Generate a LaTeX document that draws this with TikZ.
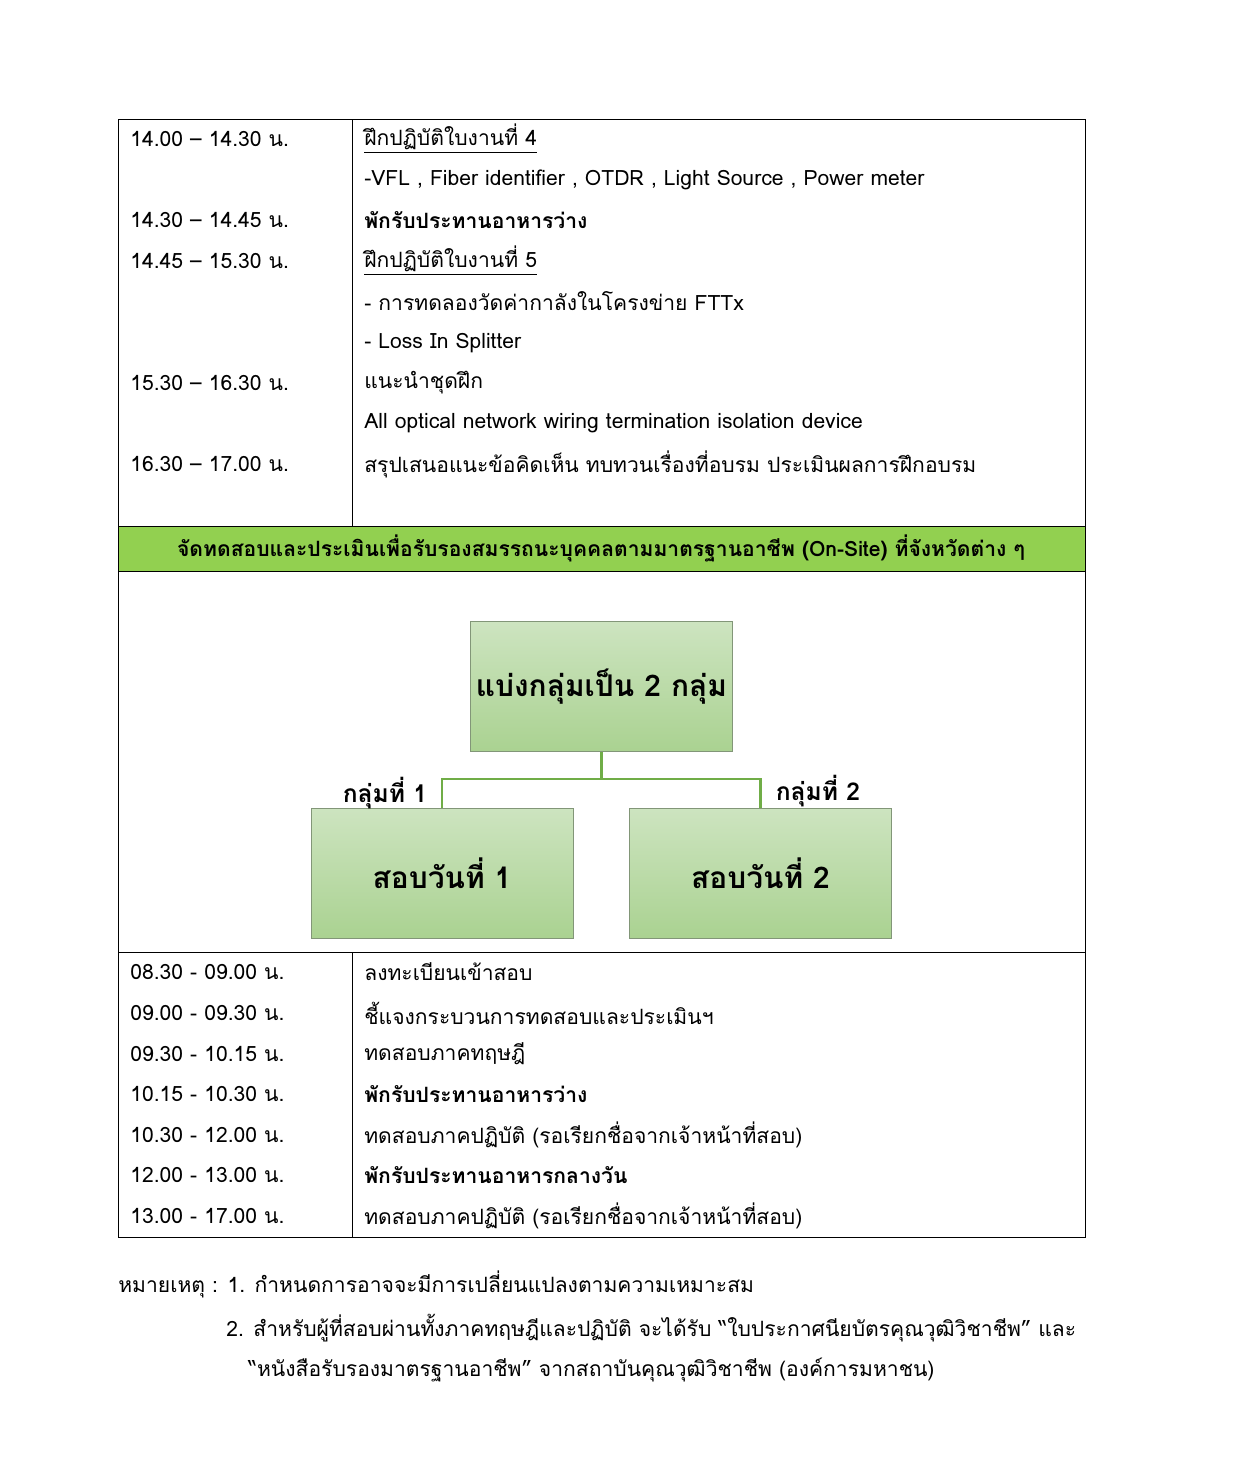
\documentclass[tikz,border=0pt]{standalone}
\usepackage{fontspec}
\setmainfont[Script=Thai]{Loma}
\usetikzlibrary{positioning}
\definecolor{bandgreen}{RGB}{146,208,80}
\definecolor{linegreen}{RGB}{112,173,71}
\definecolor{boxtop}{RGB}{205,228,192}
\definecolor{boxbot}{RGB}{170,210,145}
\definecolor{boxedge}{RGB}{130,150,120}
\def\toprows{{1/139/14.00 -- 14.30 น./\underline{ฝึกปฏิบัติใบงานที่ 4}},%
  {2/180//{-VFL , Fiber identifier , OTDR , Light Source , Power meter}},%
  {3/220/14.30 -- 14.45 น./\textbf{พักรับประทานอาหารว่าง}},%
  {4/261/14.45 -- 15.30 น./\underline{ฝึกปฏิบัติใบงานที่ 5}},%
  {5/301//- การทดลองวัดค่ากาลังในโครงข่าย FTTx},%
  {6/343//- Loss In Splitter},%
  {7/383/15.30 -- 16.30 น./แนะนำชุดฝึก},%
  {8/423//All optical network wiring termination isolation device},%
  {9/464/16.30 -- 17.00 น./สรุปเสนอแนะข้อคิดเห็น ทบทวนเรื่องที่อบรม ประเมินผลการฝึกอบรม}%
}
\def\botrows{{1/972/08.30 - 09.00 น./ลงทะเบียนเข้าสอบ},%
  {2/1013/09.00 - 09.30 น./ชี้แจงกระบวนการทดสอบและประเมินฯ},%
  {3/1054/09.30 - 10.15 น./ทดสอบภาคทฤษฎี},%
  {4/1094/10.15 - 10.30 น./\textbf{พักรับประทานอาหารว่าง}},%
  {5/1135/10.30 - 12.00 น./ทดสอบภาคปฏิบัติ (รอเรียกชื่อจากเจ้าหน้าที่สอบ)},%
  {6/1175/12.00 - 13.00 น./\textbf{พักรับประทานอาหารกลางวัน}},%
  {7/1216/13.00 - 17.00 น./ทดสอบภาคปฏิบัติ (รอเรียกชื่อจากเจ้าหน้าที่สอบ)}%
}
\begin{document}
\begin{tikzpicture}[x=0.02cm,y=-0.02cm,
    cell/.style={anchor=west,inner sep=0pt,font=\fontsize{12}{14}\selectfont},
    groupbox/.style={draw=boxedge,top color=boxtop,bottom color=boxbot,
      minimum width=5.24cm,minimum height=2.6cm,inner sep=0pt,
      font=\fontsize{17}{20}\selectfont\bfseries},
    grouplabel/.style={inner sep=0pt,font=\fontsize{14}{16}\selectfont\bfseries},
    link/.style={draw=linegreen,line width=1.2pt}]
  \useasboundingbox (0,0) rectangle (1241,1482);

  % table frame
  \fill[bandgreen] (118,526) rectangle (1085,571);
  \draw (118,119) rectangle (1085,1237);
  \draw (118,526) -- (1085,526) (118,571) -- (1085,571) (118,952) -- (1085,952);
  \draw (352,119) -- (352,526) (352,952) -- (352,1237);
  \node[inner sep=0pt,font=\fontsize{12}{14}\selectfont\bfseries] (band) at (601,548)
    {จัดทดสอบและประเมินเพื่อรับรองสมรรถนะบุคคลตามมาตรฐานอาชีพ (On-Site) ที่จังหวัดต่าง ๆ};

  \foreach \i/\y/\t/\c in \toprows {%
    \node[cell] (ta\i) at (130,\y) {\t};
    \node[cell] (ca\i) at (364,\y) {\c};
  }
  \foreach \i/\y/\t/\c in \botrows {%
    \node[cell] (tb\i) at (130,\y) {\t};
    \node[cell] (cb\i) at (364,\y) {\c};
  }

  % groups
  \node[groupbox] (split) at (601.5,686.5) {แบ่งกลุ่มเป็น 2 กลุ่ม};
  \node[groupbox] (day1) at (442,873) {สอบวันที่ 1};
  \node[groupbox] (day2) at (760.5,873) {สอบวันที่ 2};
  \coordinate (fork) at (601.5,779);
  \draw[link] (split.south) -- (fork) -| (day1.north);
  \draw[link] (fork) -| (day2.north);
  \node[grouplabel] (lab1) at (385,793) {กลุ่มที่ 1};
  \node[grouplabel] (lab2) at (818,791) {กลุ่มที่ 2};

  % notes
  \node[cell] (note1) at (118,1284) {หมายเหตุ  : 1. กำหนดการอาจจะมีการเปลี่ยนแปลงตามความเหมาะสม};
  \node[cell] (note2) at (226,1328) {2. สำหรับผู้ที่สอบผ่านทั้งภาคทฤษฎีและปฏิบัติ จะได้รับ “ใบประกาศนียบัตรคุณวุฒิวิชาชีพ” และ};
  \node[cell] (note3) at (248,1370) {“หนังสือรับรองมาตรฐานอาชีพ” จากสถาบันคุณวุฒิวิชาชีพ (องค์การมหาชน)};
\end{tikzpicture}
\end{document}
